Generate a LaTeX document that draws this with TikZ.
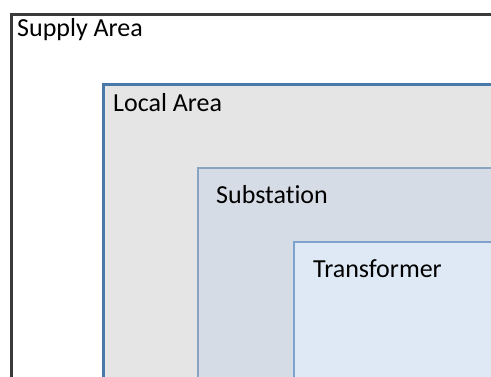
\documentclass[tikz,border=0pt]{standalone}
\usepackage{fontspec}
\setmainfont[Ligatures=CommonOff]{Carlito}
\definecolor{outerline}{HTML}{3A3A3A}
\definecolor{localline}{HTML}{4A78A8}
\definecolor{localfill}{HTML}{E5E5E5}
\definecolor{subline}{HTML}{8AA3C2}
\definecolor{subfill}{HTML}{D6DCE5}
\definecolor{trline}{HTML}{7FA2CC}
\definecolor{trfill}{HTML}{DEE9F5}
\begin{document}
\begin{tikzpicture}[x=1pt,y=-1pt,
  lbl/.style={anchor=base west,inner sep=0pt,font=\fontsize{26}{30}\selectfont,text=black}]
\useasboundingbox (0,0) rectangle (491,376);
\clip (0,0) rectangle (491,376);
\fill[white] (0,0) rectangle (491,376);
\draw[outerline,line width=3pt] (11,14) rectangle (520,400);
\draw[localline,fill=localfill,line width=3pt] (103.5,84) rectangle (520,400);
\draw[subline,fill=subfill,line width=1.3pt] (198,168) rectangle (520,400);
\draw[trline,fill=trfill,line width=1.5pt] (294,242) rectangle (520,400);
\node[lbl] (supply) at (17,36) {Supply Area};
\node[lbl] (local) at (113,111) {Local Area};
\node[lbl] (sub) at (216,203) {Substation};
\node[lbl] (tr) at (313,277) {Transformer};
\end{tikzpicture}
\end{document}
